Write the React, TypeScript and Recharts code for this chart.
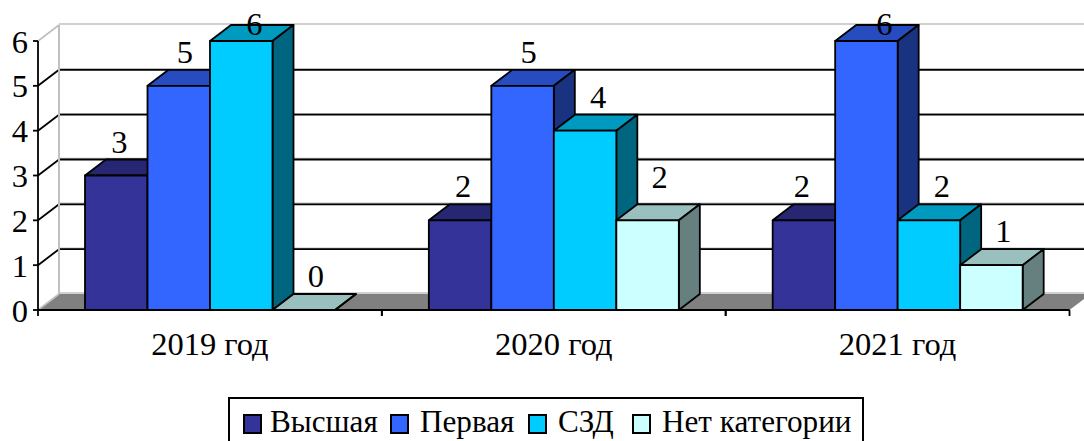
import { BarChart, Bar, XAxis, YAxis, CartesianGrid, LabelList } from 'recharts';

const categories = ['2019 год', '2020 год', '2021 год'];
const seriesNames = ['Высшая', 'Первая', 'СЗД', 'Нет категории'];
const vysshaya = [3, 2, 2];
const pervaya = [5, 5, 6];
const szd = [6, 4, 2];
const netKategorii = [0, 2, 1];
const yTicks = [0, 1, 2, 3, 4, 5, 6];

const seriesValues = [vysshaya, pervaya, szd, netKategorii];
const fronts = ['#333399', '#3366FF', '#00CCFF', '#CCFFFF'];
const tops = ['#262673', '#264CBF', '#0099BF', '#99BFBF'];
const sides = ['#1A1A4D', '#1A3380', '#006680', '#668080'];

const data = categories.map((category, i) => {
  const row: Record<string, any> = { category };
  seriesNames.forEach((name, s) => {
    row[name] = seriesValues[s][i];
  });
  return row;
});

const font = '"Liberation Serif", "Times New Roman", serif';
const fontSize = 32.5;
const depthX = 21;
const depthY = 16;
const lineW = 1.8;

// box drawn from the rectangle the bar scale gives us
const Box3D = (props: any) => {
  const { x, y, width, height, s } = props;
  const d = `${depthX} ${-depthY}`;
  return (
    <g stroke="#000" strokeWidth={lineW} strokeLinejoin="round">
      <path d={`M${x} ${y} l${d} h${width} l${-depthX} ${depthY} Z`} fill={tops[s]} />
      <path d={`M${x + width} ${y} l${d} v${height} l${-depthX} ${depthY} Z`} fill={sides[s]} />
      <rect x={x} y={y} width={width} height={height} fill={fronts[s]} />
    </g>
  );
};

// back wall and floor hang off the grid lines
const WallLine = (props: any) => {
  const { x1, x2, y1 } = props;
  const isFloor = y1 > 300;
  const isTop = y1 < 50;
  const backY = y1 - depthY;
  return (
    <g>
      {isFloor && (
        <path d={`M${x1} ${y1} l${depthX} ${-depthY} H${x2 + depthX} L${x2} ${y1} Z`} fill="#808080" stroke="none" />
      )}
      {isTop && (
        <line x1={x1 + depthX} x2={x1 + depthX} y1={backY} y2={backY + 269} stroke="#C0C0C0" strokeWidth={2} />
      )}
      <line x1={x1 + depthX} x2={x2 + depthX} y1={backY - 1} y2={backY - 1} stroke="#C0C0C0" strokeWidth={1.5} />
      <line
        x1={x1}
        y1={y1}
        x2={x1 + depthX}
        y2={backY}
        stroke={isFloor || isTop ? '#C0C0C0' : '#000'}
        strokeWidth={lineW}
      />
      {!isFloor && !isTop && (
        <line x1={x1 + depthX} x2={x2 + depthX} y1={backY} y2={backY} stroke="#000" strokeWidth={lineW} />
      )}
    </g>
  );
};

const CategoryTick = (props: any) => {
  const { x, y, payload, width } = props;
  const step = width / categories.length;
  return (
    <g>
      <line x1={x - step / 2} x2={x - step / 2} y1={y - 8} y2={y - 2} stroke="#000" strokeWidth={lineW} />
      <line x1={x + step / 2} x2={x + step / 2} y1={y - 8} y2={y - 2} stroke="#000" strokeWidth={lineW} />
      <text x={x} y={355} textAnchor="middle" fontFamily={font} fontSize={fontSize} fill="#000">
        {payload.value}
      </text>
    </g>
  );
};

// the source placed its labels unevenly, so per-series shifts plus a few one-offs
const labelShift = [3, 6, 13, 12];
const labelNudge: Record<string, [number, number]> = {
  '0-2': [-5, 0],
  '1-2': [12, 0],
  '3-1': [0, -9],
};

const ValueLabel = (props: any) => {
  const { x, y, width, value, index, s } = props;
  const nudge = labelNudge[`${s}-${index}`] ?? [0, 0];
  const cy = Math.max(y - 33, 25);
  return (
    <text
      x={x + width / 2 + labelShift[s] + nudge[0]}
      y={cy + 10 + nudge[1]}
      textAnchor="middle"
      fontFamily={font}
      fontSize={fontSize}
      fill="#000"
    >
      {value}
    </text>
  );
};

// left edge of each legend entry inside the box
const legendLeft = [13, 160, 298, 402];

export default function App() {
  return (
    <div style={{ position: 'absolute', left: 0, top: 0, width: 1084, height: 441, overflow: 'hidden', background: '#fff' }}>
      <BarChart
        width={1084}
        height={441}
        data={data}
        barGap={0}
        barSize={62.5}
        margin={{ top: 41, right: 14.5, left: 0, bottom: 91 }}
      >
        <CartesianGrid vertical={false} horizontal={(p: any) => <WallLine key={p.key} {...p} />} />
        <XAxis
          dataKey="category"
          height={40}
          interval={0}
          tickLine={false}
          axisLine={{ stroke: '#000', strokeWidth: lineW }}
          tick={(p: any) => <CategoryTick {...p} width={1031.5} />}
        />
        <YAxis
          width={38}
          domain={[0, 6]}
          ticks={yTicks}
          interval={0}
          tickSize={5}
          tickMargin={5}
          axisLine={{ stroke: '#000', strokeWidth: lineW }}
          tickLine={{ stroke: '#000', strokeWidth: lineW }}
          tick={{ fontFamily: font, fontSize, fill: '#000' }}
        />
        {seriesNames.map((name, s) => (
          <Bar key={name} dataKey={name} isAnimationActive={false} shape={(p: any) => <Box3D {...p} s={s} />}>
            <LabelList dataKey={name} content={(p: any) => <ValueLabel {...p} s={s} />} />
          </Bar>
        ))}
      </BarChart>
      <div
        style={{
          position: 'absolute',
          left: 228,
          top: 397,
          width: 636,
          height: 60,
          border: '2px solid #000',
          fontFamily: font,
          fontSize: 31.2,
          boxSizing: 'border-box',
          whiteSpace: 'nowrap',
        }}
      >
        {seriesNames.map((name, s) => (
          <span
            key={name}
            style={{ position: 'absolute', left: legendLeft[s], top: 5, display: 'flex', alignItems: 'flex-start', lineHeight: '36px' }}
          >
            <span
              style={{
                width: 15,
                height: 16,
                marginTop: 10,
                marginRight: s === 0 ? 8 : 11,
                background: fronts[s],
                border: '2px solid #000',
              }}
            />
            {name}
          </span>
        ))}
      </div>
    </div>
  );
}
